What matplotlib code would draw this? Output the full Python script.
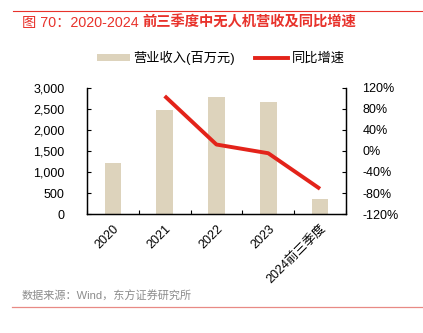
import numpy as np
import matplotlib
matplotlib.use("Agg")
import matplotlib.pyplot as plt
from matplotlib.ticker import FuncFormatter
from matplotlib.lines import Line2D
from matplotlib.patches import Patch

plt.rcParams["font.family"] = ["Liberation Sans", "Noto Sans CJK SC"]

# 数据
anios = ["2020", "2021", "2022", "2023", "2024前三季度"]
ingresos = [1205, 2470, 2765, 2660, 355]          # 营业收入(百万元)
crecimiento = [np.nan, 104, 12, -4.5, -72]         # 同比增速 (%)

color_barra = "#DDD3BC"
color_linea = "#E3231A"
rojo_titulo = "#E8322B"

fig = plt.figure(figsize=(4.23, 3.33), dpi=100)
ax = fig.add_axes([0.2057, 0.357, 0.612, 0.380])
ax2 = ax.twinx()

x = np.arange(len(anios))
ax.bar(x, ingresos, width=0.32, color=color_barra, zorder=2)
ax2.plot(x, crecimiento, color=color_linea, lw=2.8, solid_capstyle="butt", zorder=3)

ax.set_xlim(-0.5, len(anios) - 0.5)
ax.set_ylim(0, 3000)
ax.set_yticks(range(0, 3001, 500))
ax.yaxis.set_major_formatter(FuncFormatter(lambda v, p: f"{int(v):,}"))
ax2.set_ylim(-120, 120)
ax2.set_yticks(range(-120, 121, 40))
ax2.yaxis.set_major_formatter(FuncFormatter(lambda v, p: f"{int(v)}%"))

ax.set_xticks(x)
ax.set_xticklabels(anios, rotation=45, ha="right", rotation_mode="anchor", fontsize=9)
ax.set_xticks(np.arange(-0.5, len(anios)), minor=True)
ax.tick_params(axis="x", which="major", length=0, pad=6)
ax.tick_params(axis="x", which="minor", direction="in", length=3, width=0.8)
ax.tick_params(axis="y", direction="in", length=3, width=0.8, labelsize=9, pad=16)
ax2.tick_params(axis="y", direction="in", length=3, width=0.8, labelsize=9, pad=12)
for lab in ax2.get_yticklabels():
    lab.set_horizontalalignment("left")

for a in (ax, ax2):
    a.spines["top"].set_visible(False)
    for s in ("left", "right", "bottom"):
        a.spines[s].set_linewidth(0.9)

# 图例
handles = [Patch(facecolor=color_barra, edgecolor="none"),
           Line2D([0], [0], color=color_linea, lw=2.8)]
fig.legend(handles, ["营业收入(百万元)", "同比增速"], loc="center",
           bbox_to_anchor=(0.522, 0.826), ncol=2, frameon=False, fontsize=9.5,
           handlelength=2.5, handleheight=0.5, columnspacing=1.5, handletextpad=0.3)

# 标题 y 来源
fig.add_artist(Line2D([0.031, 1.0], [0.967, 0.967], color=rojo_titulo, lw=0.8))
t1 = fig.text(0.052, 0.932, "图 70：2020-2024 ", color=rojo_titulo,
              fontsize=10.3, va="center")
fig.canvas.draw()
bb = t1.get_window_extent()
fig.text(bb.x1 / fig.bbox.width, 0.932, "前三季度中无人机营收及同比增速",
         color=rojo_titulo, fontsize=10.3, fontweight="bold", va="center")
fig.text(0.052, 0.111, "数据来源：Wind，东方证券研究所", color="#8C8C8C",
         fontsize=8, va="center")
fig.add_artist(Line2D([0.028, 1.0], [0.079, 0.079], color="#E88A85", lw=0.9))

fig.savefig("out.png", dpi=100)
